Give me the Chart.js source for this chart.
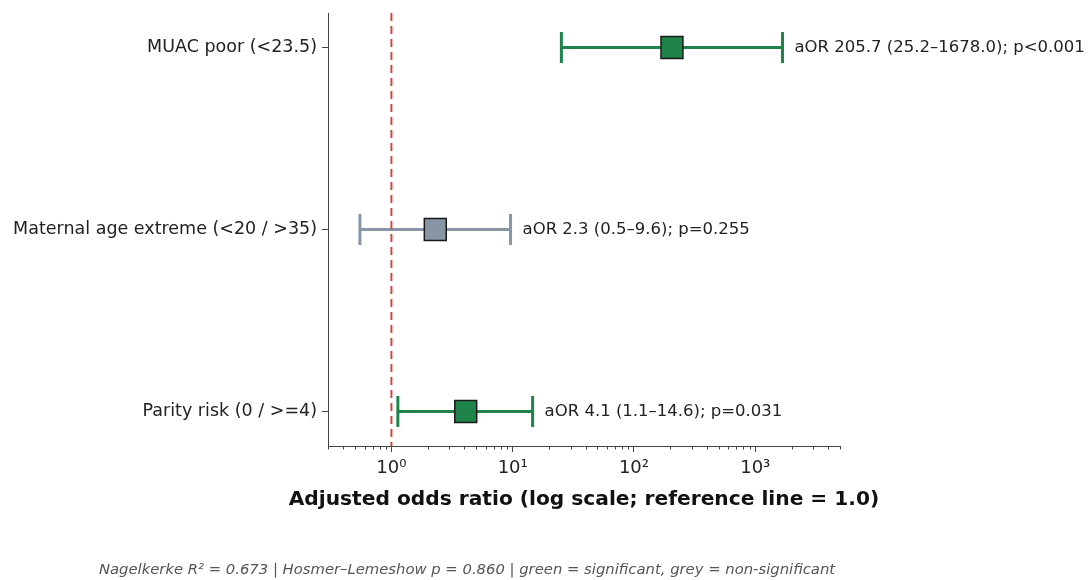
<!DOCTYPE html>
<html>
<head>
<meta charset="utf-8">
<script src="https://cdn.jsdelivr.net/npm/chart.js@4/dist/chart.umd.min.js"></script>
<style>
  body { margin: 0; background: #fff; }
</style>
</head>
<body>
<canvas id="forest" width="1089" height="580"></canvas>
<script>
const categories = ['MUAC poor (<23.5)', 'Maternal age extreme (<20 / >35)', 'Parity risk (0 / >=4)'];
const oddsRatio = [205.7, 2.3, 4.1];
const ciLow = [25.2, 0.55, 1.13];
const ciHigh = [1678.0, 9.6, 14.6];
const significant = [true, false, true];
const annotations = [
    'aOR 205.7 (25.2\u20131678.0); p<0.001',
    'aOR 2.3 (0.5\u20139.6); p=0.255',
    'aOR 4.1 (1.1\u201314.6); p=0.031'
];
const xTicks = [1, 10, 100, 1000];
const xTickLabels = ['10\u2070', '10\u00b9', '10\u00b2', '10\u00b3'];
const xMin = 0.3, xMax = 5000;
const xTitle = 'Adjusted odds ratio (log scale; reference line = 1.0)';
const footnote = 'Nagelkerke R\u00b2 = 0.673 | Hosmer\u2013Lemeshow p = 0.860 | green = significant, grey = non-significant';

const GREEN = '#1e8449';
const GREY = '#8795a5';
const FONT = 'DejaVu Sans';

var datasets = [];

// reference line at OR = 1
datasets.push({
    data: [{x: 1, y: -0.19}, {x: 1, y: 2.19}],
    showLine: true,
    borderColor: '#cc4a3f',
    borderWidth: 2,
    borderDash: [8, 5],
    pointRadius: 0,
    order: 0,
});

for (let i = 0; i < categories.length; i++) {
    const col = significant[i] ? GREEN : GREY;
    // point estimate
    datasets.push({
        data: [{x: oddsRatio[i], y: i}],
        pointStyle: 'rect',
        pointRadius: 15.5,
        pointHoverRadius: 15.5,
        backgroundColor: col,
        borderColor: '#1a1a1a',
        borderWidth: 1.5,
        order: 1,
    });
    // confidence interval with caps
    datasets.push({
        data: [{x: ciLow[i], y: i}, {x: ciHigh[i], y: i}],
        showLine: true,
        borderColor: col,
        borderWidth: 3,
        pointStyle: 'line',
        rotation: 90,
        pointRadius: 15.5,
        pointHoverRadius: 15.5,
        pointBorderColor: col,
        pointBorderWidth: 3,
        order: 2,
    });
}

const labelPlugin = {
    id: 'labelPlugin',
    afterDatasetsDraw(chart) {
        const {ctx, scales: {x, y}, chartArea} = chart;
        ctx.save();
        // minor ticks
        ctx.strokeStyle = '#444';
        ctx.lineWidth = 1;
        for (let e = -1; e <= 3; e++) {
            for (let m = 2; m <= 9; m++) {
                const v = m * Math.pow(10, e);
                if (v < xMin || v > xMax) continue;
                const px = Math.round(x.getPixelForValue(v)) + 0.5;
                ctx.beginPath();
                ctx.moveTo(px, chartArea.bottom);
                ctx.lineTo(px, chartArea.bottom + 3.5);
                ctx.stroke();
            }
        }
        // annotations
        ctx.font = '16.5px "' + FONT + '"';
        ctx.fillStyle = '#222';
        ctx.textBaseline = 'middle';
        ctx.textAlign = 'left';
        for (let i = 0; i < annotations.length; i++) {
            ctx.fillText(annotations[i], x.getPixelForValue(ciHigh[i]) + 12, y.getPixelForValue(i));
        }
        // x axis title (drawn here so it is not squeezed to the axis width)
        ctx.font = 'bold 20.2px "' + FONT + '"';
        ctx.fillStyle = '#111';
        ctx.textAlign = 'center';
        ctx.fillText(xTitle, (chartArea.left + chartArea.right) / 2, 500);
        // footnote
        ctx.font = 'italic 14.8px "' + FONT + '"';
        ctx.fillStyle = '#555';
        ctx.fillText(footnote, 467, 570);
        ctx.restore();
    }
};

new Chart(document.querySelector('#forest'), {
    type: 'scatter',
    data: { datasets: datasets },
    plugins: [labelPlugin],
    options: {
        responsive: false,
        animation: false,
        layout: { autoPadding: false, padding: { top: 13, right: 249, left: 0, bottom: 49 } },
        plugins: {
            legend: { display: false },
            tooltip: { enabled: false },
        },
        scales: {
            x: {
                type: 'logarithmic',
                min: xMin,
                max: xMax,
                afterBuildTicks: (scale) => {
                    scale.ticks = xTicks.map(v => ({value: v, major: true}));
                },
                afterFit: (scale) => {
                    scale.height = 85;
                    scale.paddingLeft = 0;
                    scale.paddingRight = 0;
                },
                ticks: {
                    color: '#222',
                    font: { family: FONT, size: 18 },
                    padding: 6,
                    maxRotation: 0,
                    autoSkip: false,
                    callback: (v) => xTickLabels[xTicks.indexOf(v)] || '',
                },
                grid: { drawOnChartArea: false, drawTicks: true, tickLength: 6, color: '#444' },
                border: { display: true, color: '#444', width: 1 },
            },
            y: {
                type: 'linear',
                reverse: true,
                min: -0.19,
                max: 2.19,
                afterBuildTicks: (scale) => {
                    scale.ticks = categories.map((c, i) => ({value: i}));
                },
                afterFit: (scale) => {
                    scale.width = 328;
                    scale.paddingTop = 0;
                    scale.paddingBottom = 0;
                },
                ticks: {
                    color: '#222',
                    font: { family: FONT, size: 17.5 },
                    padding: 5,
                    autoSkip: false,
                    callback: (v) => categories[v] || '',
                },
                grid: { drawOnChartArea: false, drawTicks: true, tickLength: 6, color: '#444' },
                border: { display: true, color: '#444', width: 1 },
            },
        },
    },
});
</script>
</body>
</html>
